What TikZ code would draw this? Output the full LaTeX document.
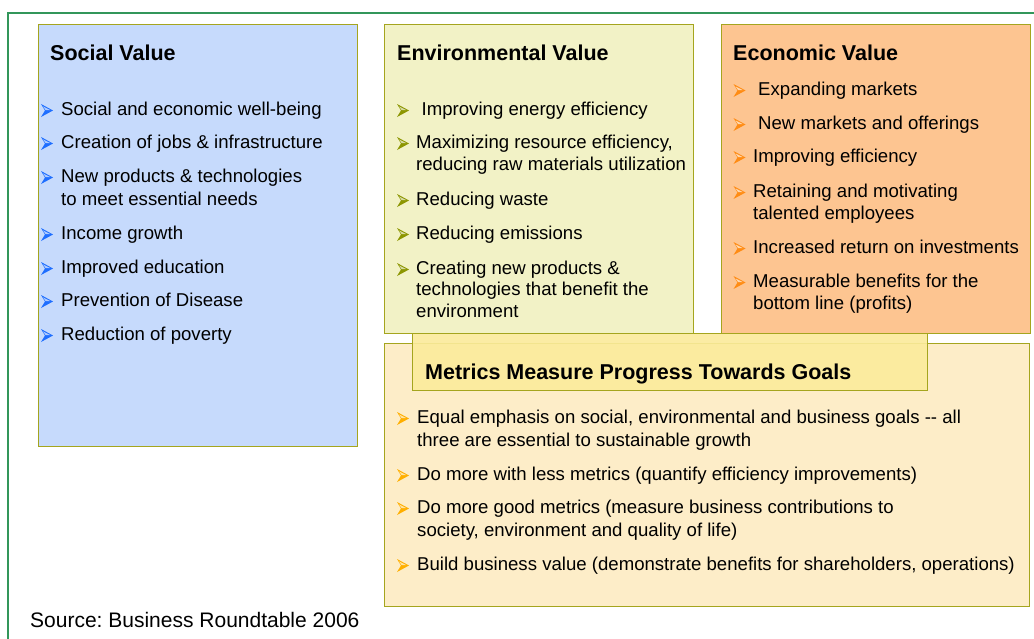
\documentclass[tikz,border=0pt]{standalone}
\usepackage{fontspec}
\setmainfont{Liberation Sans}
\definecolor{frame}{RGB}{50,150,90}
\definecolor{olive}{RGB}{165,165,30}
\definecolor{socfill}{RGB}{198,218,252}
\definecolor{envfill}{RGB}{242,242,198}
\definecolor{ecofill}{RGB}{253,197,145}
\definecolor{metfill}{RGB}{253,237,200}
\definecolor{titfill}{RGB}{251,235,155}
\definecolor{bblue}{RGB}{30,110,255}
\definecolor{bolive}{RGB}{140,150,0}
\definecolor{borange}{RGB}{255,140,20}
\definecolor{byellow}{RGB}{255,175,0}
\newcommand\bul[3]{%
  \fill[#3] (#1,#2-11) -- (#1+12,#2-4.5) -- (#1,#2+2) -- (#1+4,#2-4.5) -- cycle;
  \fill[#3!35!white] (#1+2,#2-8.6) -- (#1+9,#2-5) -- (#1+4.6,#2-5) -- cycle;}
\newcommand\itm[4]{\node[txt] (#1) at (#2,#3) {#4};}
\frenchspacing
\begin{document}
\begin{tikzpicture}[x=1pt,y=-1pt,
  box/.style={draw=olive, line width=1.1pt, anchor=north west, inner sep=0pt},
  txt/.style={anchor=base west, inner sep=0pt, font=\fontsize{18.6}{22}\selectfont},
  ttl/.style={anchor=base west, inner sep=0pt, font=\fontsize{21.5}{25}\selectfont\bfseries}]
\useasboundingbox (0,0) rectangle (1034,638);
\clip (0,0) rectangle (1034,638);
\fill[white] (0,0) rectangle (1034,638);
\draw[frame, line width=2pt] (8,12.5) rectangle (1050,660);
% boxes
\node[box, fill=socfill, minimum width=319pt, minimum height=422pt] (social) at (38,24) {};
\node[box, fill=envfill, minimum width=309pt, minimum height=309pt] (env) at (384,24) {};
\node[box, fill=ecofill, minimum width=309pt, minimum height=309pt] (eco) at (721,24) {};
\node[box, fill=metfill, minimum width=645pt, minimum height=263pt] (met) at (384,343) {};
\node[box, fill=titfill, fill opacity=0.9, minimum width=515pt, minimum height=57pt] (mettitle) at (412,333) {};
% social
\node[ttl] (socT) at (50,60) {Social Value};
\bul{41}{115}{bblue}\itm{s1}{61}{115}{Social and economic well-being}
\bul{41}{148}{bblue}\itm{s2}{61}{148}{Creation of jobs \& infrastructure}
\bul{41}{182}{bblue}\itm{s3}{61}{182}{New products \& technologies}
\itm{s3b}{61}{205}{to meet essential needs}
\bul{41}{239}{bblue}\itm{s4}{61}{239}{Income growth}
\bul{41}{273}{bblue}\itm{s5}{61}{273}{Improved education}
\bul{41}{306}{bblue}\itm{s6}{61}{306}{Prevention of Disease}
\bul{41}{340}{bblue}\itm{s7}{61}{340}{Reduction of poverty}
% environmental
\node[ttl] (envT) at (397,60) {Environmental Value};
\bul{397}{115}{bolive}\itm{e1}{421.5}{115}{Improving energy efficiency}
\bul{397}{148}{bolive}\itm{e2}{416}{148}{Maximizing resource efficiency,}
\itm{e2b}{416}{170.5}{reducing raw materials utilization}
\bul{397}{205}{bolive}\itm{e3}{416}{205}{Reducing waste}
\bul{397}{239}{bolive}\itm{e4}{416}{239}{Reducing emissions}
\bul{397}{274}{bolive}\itm{e5}{416}{274}{Creating new products \&}
\itm{e5b}{416}{295.5}{technologies that benefit the}
\itm{e5c}{416}{317}{environment}
% economic
\node[ttl] (ecoT) at (733,60) {Economic Value};
\bul{733.5}{95}{borange}\itm{c1}{758}{95}{Expanding markets}
\bul{733.5}{129}{borange}\itm{c2}{758}{129}{New markets and offerings}
\bul{733.5}{162}{borange}\itm{c3}{753}{162}{Improving efficiency}
\bul{733.5}{197}{borange}\itm{c4}{753}{197}{Retaining and motivating}
\itm{c4b}{753}{219}{talented employees}
\bul{733.5}{253}{borange}\itm{c5}{753}{253}{Increased return on investments}
\bul{733.5}{287}{borange}\itm{c6}{753}{287}{Measurable benefits for the}
\itm{c6b}{753}{309}{bottom line (profits)}
% metrics
\node[ttl] (metT) at (425,379) {Metrics Measure Progress Towards Goals};
\bul{397}{423}{byellow}\itm{m1}{417}{423}{Equal emphasis on social, environmental and business goals {-}{-} all}
\itm{m1b}{417}{446}{three are essential to sustainable growth}
\bul{397}{480}{byellow}\itm{m2}{417}{480}{Do more with less metrics (quantify efficiency improvements)}
\bul{397}{513}{byellow}\itm{m3}{417}{513}{Do more good metrics (measure business contributions to}
\itm{m3b}{417}{536}{society, environment and quality of life)}
\bul{397}{570}{byellow}\itm{m4}{417}{570}{Build business value (demonstrate benefits for shareholders, operations)}
% source
\node[txt, font=\fontsize{21}{25}\selectfont] (src) at (30,627) {Source: Business Roundtable 2006};
\end{tikzpicture}
\end{document}
